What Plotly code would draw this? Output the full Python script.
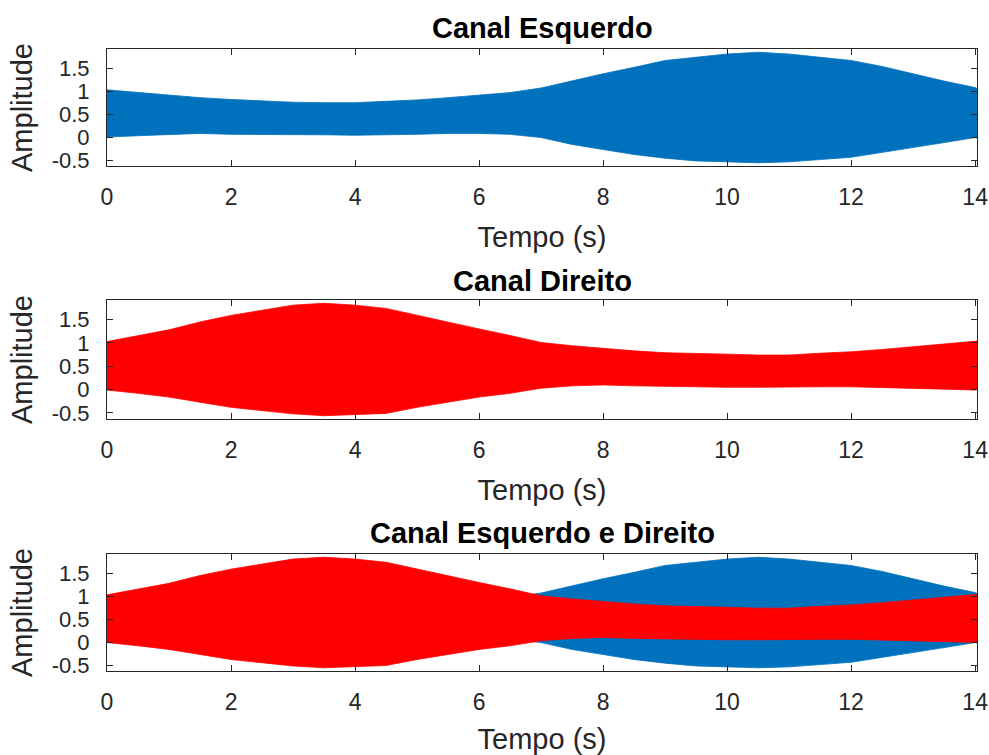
import plotly.graph_objects as go

# ---- data (envelope of the audio signal) ----
time_s = [0, 0.5, 1, 1.5, 2, 2.5, 3, 3.5, 4, 4.5, 5, 5.5, 6, 6.5, 7, 7.5,
          8, 8.5, 9, 9.5, 10, 10.5, 11, 11.5, 12, 12.5, 13, 13.5, 14, 14.03]

left_upper = [1.03, 0.97, 0.92, 0.86, 0.82, 0.79, 0.76, 0.75, 0.75, 0.78,
              0.81, 0.86, 0.92, 0.97, 1.07, 1.23, 1.38, 1.52, 1.67, 1.74,
              1.81, 1.85, 1.81, 1.74, 1.67, 1.54, 1.38, 1.22, 1.08, 1.06]
left_lower = [0.00, 0.03, 0.06, 0.08, 0.06, 0.06, 0.05, 0.05, 0.04, 0.05,
              0.06, 0.08, 0.08, 0.06, -0.01, -0.16, -0.27, -0.38, -0.46, -0.52,
              -0.54, -0.56, -0.54, -0.49, -0.44, -0.34, -0.23, -0.12, -0.01, -0.02]

right_upper = [1.03, 1.16, 1.28, 1.45, 1.59, 1.70, 1.81, 1.85, 1.81, 1.74,
               1.59, 1.45, 1.30, 1.16, 1.01, 0.94, 0.88, 0.83, 0.79, 0.78,
               0.76, 0.74, 0.74, 0.78, 0.81, 0.86, 0.92, 0.97, 1.03, 1.04]
right_lower = [-0.01, -0.08, -0.16, -0.27, -0.38, -0.45, -0.52, -0.56, -0.54, -0.51,
               -0.38, -0.27, -0.16, -0.08, 0.03, 0.08, 0.10, 0.08, 0.06, 0.06,
               0.05, 0.05, 0.05, 0.06, 0.06, 0.05, 0.03, 0.01, -0.01, 0.00]

x_tick_vals = [0, 2, 4, 6, 8, 10, 12, 14]
x_tick_text = ["0", "2", "4", "6", "8", "10", "12", "14"]
y_tick_vals = [-0.5, 0, 0.5, 1, 1.5]
y_tick_text = ["-0.5", "0", "0.5", "1", "1.5"]

titles = ["Canal Esquerdo", "Canal Direito", "Canal Esquerdo e Direito"]
x_label = "Tempo (s)"
y_label = "Amplitude"

BLUE = "#0072BD"
RED = "#FF0000"
AXC = "#262626"
FONT = "Liberation Sans, Arial, Helvetica, sans-serif"

W, H = 989, 755
# panel pixel boxes (top, bottom)
left_px, right_px = 107, 977
rows_px = [(49, 166), (300, 419), (554, 671)]
title_px = [28, 281, 533]


def band(t, up, lo, color, xa, ya):
    return go.Scatter(
        x=list(t) + list(t[::-1]),
        y=list(up) + list(lo[::-1]),
        fill="toself", fillcolor=color,
        line=dict(color=color, width=0.8),
        mode="lines", hoverinfo="skip", showlegend=False,
        xaxis=xa, yaxis=ya,
    )


fig = go.Figure()
fig.add_trace(band(time_s, left_upper, left_lower, BLUE, "x", "y"))
fig.add_trace(band(time_s, right_upper, right_lower, RED, "x2", "y2"))
fig.add_trace(band(time_s, left_upper, left_lower, BLUE, "x3", "y3"))
fig.add_trace(band(time_s, right_upper, right_lower, RED, "x3", "y3"))

layout = dict(
    width=W, height=H,
    margin=dict(l=0, r=0, t=0, b=0, autoexpand=False),
    paper_bgcolor="white", plot_bgcolor="white",
    font=dict(family=FONT, color=AXC),
    showlegend=False,
)

annotations = []
for i, (top, bot) in enumerate(rows_px):
    sfx = "" if i == 0 else str(i + 1)
    xa = "xaxis" + sfx
    ya = "yaxis" + sfx
    layout[xa] = dict(
        domain=[left_px / W, right_px / W],
        anchor="y" + sfx,
        range=[0, 14.03],
        tickvals=x_tick_vals, ticktext=x_tick_text,
        ticks="inside", ticklen=6, tickwidth=1, tickcolor=AXC,
        showline=True, linecolor=AXC, linewidth=1, mirror="ticks",
        showgrid=False, zeroline=False, automargin=False,
        tickfont=dict(size=23, color=AXC, family=FONT),
        ticklabelstandoff=10,
        title=dict(text=x_label, font=dict(size=29, color=AXC, family=FONT), standoff=18),
    )
    layout[ya] = dict(
        domain=[1 - bot / H, 1 - top / H],
        anchor="x" + sfx,
        range=[-0.63, 1.92],
        tickvals=y_tick_vals, ticktext=y_tick_text,
        ticks="inside", ticklen=6, tickwidth=1, tickcolor=AXC,
        showline=True, linecolor=AXC, linewidth=1, mirror="ticks",
        showgrid=False, zeroline=False, automargin=False,
        tickfont=dict(size=22, color=AXC, family=FONT),
        ticklabelstandoff=12,
        title=dict(text=y_label, font=dict(size=29, color=AXC, family=FONT), standoff=10),
    )
    annotations.append(dict(
        text="<b>" + titles[i] + "</b>",
        xref="paper", yref="paper",
        x=(left_px + right_px) / 2 / W, y=1 - title_px[i] / H,
        xanchor="center", yanchor="middle", showarrow=False,
        font=dict(size=29, color="black", family=FONT),
    ))

layout["annotations"] = annotations
fig.update_layout(**layout)
fig.write_html(
    "out.html",
    config={"displayModeBar": False},
    post_script="document.body.style.margin='0';document.body.style.overflow='hidden';",
)
